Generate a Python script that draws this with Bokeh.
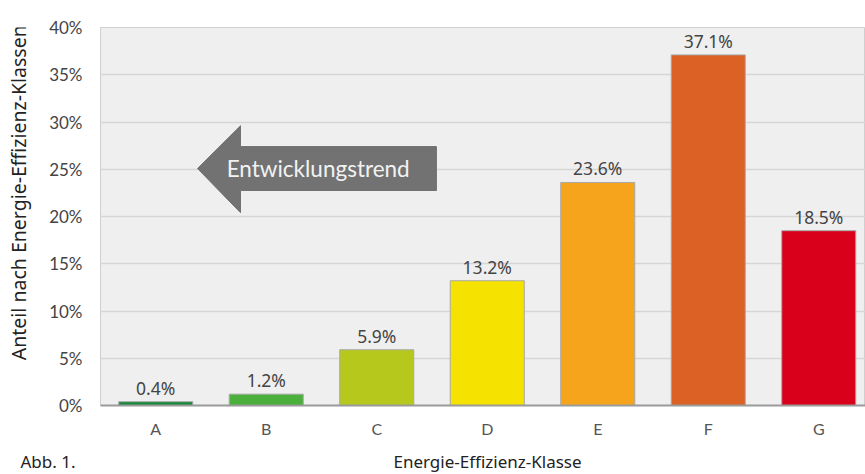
from bokeh.plotting import figure
from bokeh.layouts import column, row
from bokeh.models import ColumnDataSource, FixedTicker, Label, NumeralTickFormatter, Range1d, LabelSet
from bokeh.core.properties import value
from bokeh.embed import file_html
from bokeh.resources import INLINE

classes = ["A", "B", "C", "D", "E", "F", "G"]
shares = [0.4, 1.2, 5.9, 13.2, 23.6, 37.1, 18.5]
colors = ["#17883a", "#4bb03b", "#b7c81d", "#f5e200", "#f7a41d", "#dc6125", "#d9001b"]
y_ticks = [0, 5, 10, 15, 20, 25, 30, 35, 40]
y_title = "Anteil nach Energie-Effizienz-Klassen"
x_title = "Energie-Effizienz-Klasse"
fig_note = "Abb. 1."
trend_text = "Entwicklungstrend"

xpos = [i + 0.5 for i in range(len(classes))]
src = ColumnDataSource(dict(x=xpos, top=shares, color=colors,
                            lab=[f"{v:.1f}%" for v in shares]))

LEFT_W = 36
TOP_H = 446

p = figure(width=865 - LEFT_W, height=TOP_H, output_backend="svg", toolbar_location=None,
           x_range=Range1d(0, 6.923), y_range=Range1d(0, 40),
           min_border_left=100 - LEFT_W, min_border_right=0, min_border_top=27,
           min_border_bottom=TOP_H - 405)
p.background_fill_color = "#efefef"
p.border_fill_color = "white"
p.outline_line_color = "#cfcfcf"
p.outline_line_width = 1

p.vbar(x="x", top="top", width=0.67, bottom=0, source=src, fill_color="color",
       line_color="#a8a8a8", line_width=1)

p.add_layout(LabelSet(x="x", y="top", text="lab", source=src, text_align="center",
                      text_baseline="alphabetic", y_offset=7, text_font=value("Noto Sans"),
                      text_font_size=value("17.5px"), text_color="#444444"))

# arrow
ax = [0.878, 1.267, 1.267, 3.04, 3.04, 1.267, 1.267]
ay = [25.08, 29.6, 27.4, 27.4, 22.75, 22.75, 20.4]
p.patch(ax, ay, fill_color="#727272", line_color="#727272")
p.add_layout(Label(x=1.97, y=25.1, text=trend_text, text_align="center",
                   text_baseline="middle", text_font="Lato", text_font_size="22.5px",
                   text_color="#f2f2f2"))

p.xaxis.ticker = FixedTicker(ticks=xpos)
p.xaxis.major_label_overrides = {x: c for x, c in zip(xpos, classes)}
p.xaxis.major_tick_line_color = None
p.xaxis.minor_tick_line_color = None
p.xaxis.major_tick_in = 0
p.xaxis.major_tick_out = 0
p.xaxis.axis_line_color = "#9a9a9a"
p.xaxis.axis_line_width = 2
p.xaxis.major_label_standoff = 13
p.xaxis.major_label_text_font = "Lato"
p.xaxis.major_label_text_font_size = "16px"
p.xaxis.major_label_text_color = "#555555"

p.yaxis.ticker = FixedTicker(ticks=y_ticks)
p.yaxis.formatter = NumeralTickFormatter(format="0")
p.yaxis.major_label_overrides = {t: f"{t}%" for t in y_ticks}
p.yaxis.major_tick_line_color = None
p.yaxis.minor_tick_line_color = None
p.yaxis.major_tick_in = 0
p.yaxis.major_tick_out = 0
p.yaxis.axis_line_color = None
p.yaxis.major_label_standoff = 18
p.yaxis.major_label_text_font = "Lato"
p.yaxis.major_label_text_font_size = "17px"
p.yaxis.major_label_text_color = "#444444"

p.xgrid.grid_line_color = None
p.ygrid.grid_line_color = "#d6d6d6"
p.ygrid.grid_line_width = 1.5


def blank(w, h):
    f = figure(width=w, height=h, output_backend="svg", toolbar_location=None,
               x_range=Range1d(0, w), y_range=Range1d(0, h),
               min_border=0)
    f.axis.visible = False
    f.grid.visible = False
    f.outline_line_color = None
    f.background_fill_color = "white"
    f.border_fill_color = "white"
    return f


pl = blank(LEFT_W, TOP_H)
pl.add_layout(Label(x=18, y=TOP_H - 195, text=y_title, angle=1.5708,
                    text_align="center", text_baseline="middle", text_font="Noto Sans",
                    text_font_size="19.5px", text_color="#222222"))

BOT_H = 474 - TOP_H
pb = blank(865, BOT_H)
pb.add_layout(Label(x=487, y=BOT_H - 15, text=x_title, text_align="center",
                    text_baseline="middle", text_font="Noto Sans", text_font_size="17px",
                    text_color="#222222"))
pb.add_layout(Label(x=20, y=BOT_H - 15, text=fig_note, text_align="left",
                    text_baseline="middle", text_font="Noto Sans", text_font_size="17px",
                    text_color="#222222"))

layout = column(row(pl, p, spacing=0), pb, spacing=0)
open("out.html", "w").write(file_html(layout, INLINE))
